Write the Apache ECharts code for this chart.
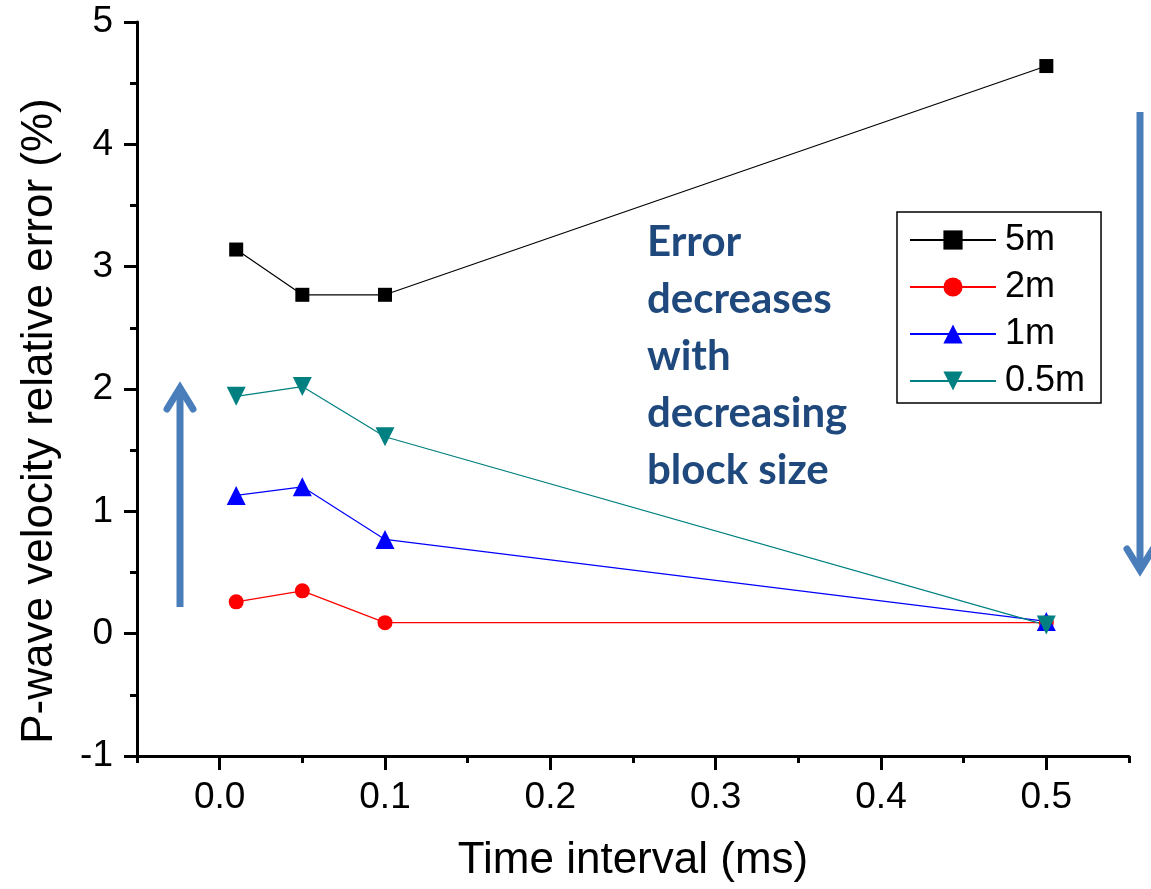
<!DOCTYPE html>
<html>
<head>
<meta charset="utf-8">
<script src="https://cdn.jsdelivr.net/npm/echarts@6/dist/echarts.min.js"></script>
<style>html,body{margin:0;padding:0;background:#fff;}#chart{width:1151px;height:889px;}</style>
</head>
<body>
<div id="chart"></div>
<script>
// Data
var timeIntervals = [0.01, 0.05, 0.1, 0.5];
var seriesNames = ['5m', '2m', '1m', '0.5m'];
var err5m  = [3.14, 2.77, 2.77, 4.64];
var err2m  = [0.26, 0.35, 0.09, 0.09];
var err1m  = [1.13, 1.20, 0.77, 0.10];
var err05m = [1.94, 2.02, 1.61, 0.07];
var xMajorTicks = [0, 0.1, 0.2, 0.3, 0.4, 0.5];
var xMinorTicks = [-0.05, 0.05, 0.15, 0.25, 0.35, 0.45, 0.55];
var annotationText = 'Error\ndecreases\nwith\ndecreasing\nblock size';

function pairs(ys) { return timeIntervals.map(function (x, i) { return [x, ys[i]]; }); }

var FONT = '"Liberation Sans", Arial, sans-serif';
var arrowColor = '#4a7ebb';

var chart = echarts.init(document.getElementById('chart'), null, {renderer: 'canvas'});

function mkSeries(name, data, color, symbol, size, rotate) {
  return {
    name: name, type: 'line', data: pairs(data),
    symbol: symbol, symbolSize: size, symbolRotate: rotate || 0,
    lineStyle: {color: color, width: 1.2},
    itemStyle: {color: color, borderWidth: 0},
    emphasis: {disabled: true},
    animation: false, z: 3
  };
}

var option = {
  backgroundColor: '#fff',
  animation: false,
  grid: {left: 137, right: 22, top: 22, bottom: 133, outerBoundsMode: 'none', containLabel: false},
  xAxis: [{
    type: 'value', min: -0.05, max: 0.55,
    name: 'Time interval (ms)', nameLocation: 'middle', nameGap: 83,
    nameTextStyle: {fontFamily: FONT, fontSize: 44, color: '#000'},
    axisLine: {show: true, onZero: false, lineStyle: {color: '#000', width: 3}},
    axisTick: {show: true, customValues: xMajorTicks, length: 14, lineStyle: {color: '#000', width: 3}},
    axisLabel: {show: true, customValues: xMajorTicks, margin: 23, fontFamily: FONT, fontSize: 37, color: '#000',
      formatter: function (v) { return v.toFixed(1); }},
    splitLine: {show: false}
  }, {
    type: 'value', min: -0.05, max: 0.55, position: 'bottom', offset: 0,
    axisLine: {show: false, onZero: false},
    axisTick: {show: true, customValues: xMinorTicks, length: 7, lineStyle: {color: '#000', width: 3}},
    axisLabel: {show: false},
    splitLine: {show: false}
  }],
  yAxis: {
    type: 'value', min: -1, max: 5, interval: 1,
    name: 'P-wave velocity relative error (%)', nameLocation: 'middle', nameGap: 75, nameRotate: 90,
    nameTextStyle: {fontFamily: FONT, fontSize: 44, color: '#000', padding: [0, 64, 0, 0]},
    axisLine: {show: true, onZero: false, lineStyle: {color: '#000', width: 3}},
    axisTick: {show: true, length: 13, lineStyle: {color: '#000', width: 3}},
    minorTick: {show: true, splitNumber: 2, length: 7, lineStyle: {color: '#000', width: 3}},
    axisLabel: {margin: 24, fontFamily: FONT, fontSize: 37, color: '#000'},
    splitLine: {show: false}
  },
  legend: {
    orient: 'vertical', left: 897, top: 212,
    data: seriesNames,
    borderColor: '#000', borderWidth: 1.5, borderRadius: 0,
    padding: [10, 16, 4, 12],
    itemWidth: 86, itemHeight: 24, itemGap: 11,
    textStyle: {fontFamily: FONT, fontSize: 36, color: '#000', lineHeight: 36, padding: [0, 0, 0, 4]},
    selectedMode: false
  },
  series: [
    mkSeries('5m', err5m, '#000000', 'rect', 14),
    mkSeries('2m', err2m, '#ff0000', 'circle', 15),
    mkSeries('1m', err1m, '#0000ff', 'triangle', 19),
    mkSeries('0.5m', err05m, '#008080', 'triangle', 19, 180)
  ],
  graphic: [
    {type: 'line', shape: {x1: 180, y1: 607, x2: 180, y2: 392}, style: {stroke: arrowColor, lineWidth: 7}, z: 2},
    {type: 'polyline', shape: {points: [[167, 409], [180, 388], [193, 409]]}, style: {stroke: arrowColor, lineWidth: 7, lineCap: 'round', lineJoin: 'miter', fill: null}, z: 2},
    {type: 'line', shape: {x1: 1140, y1: 112, x2: 1140, y2: 568}, style: {stroke: arrowColor, lineWidth: 7}, z: 2},
    {type: 'polyline', shape: {points: [[1127, 549], [1140, 570], [1153, 549]]}, style: {stroke: arrowColor, lineWidth: 7, lineCap: 'round', lineJoin: 'miter', fill: null}, z: 2},
    {type: 'text', left: 647, top: 214, z: 2,
      style: {text: annotationText, font: 'bold 42px Lato, "Open Sans", sans-serif', lineHeight: 57, fill: '#1f497d'}}
  ]
};
chart.setOption(option);
</script>
</body>
</html>
